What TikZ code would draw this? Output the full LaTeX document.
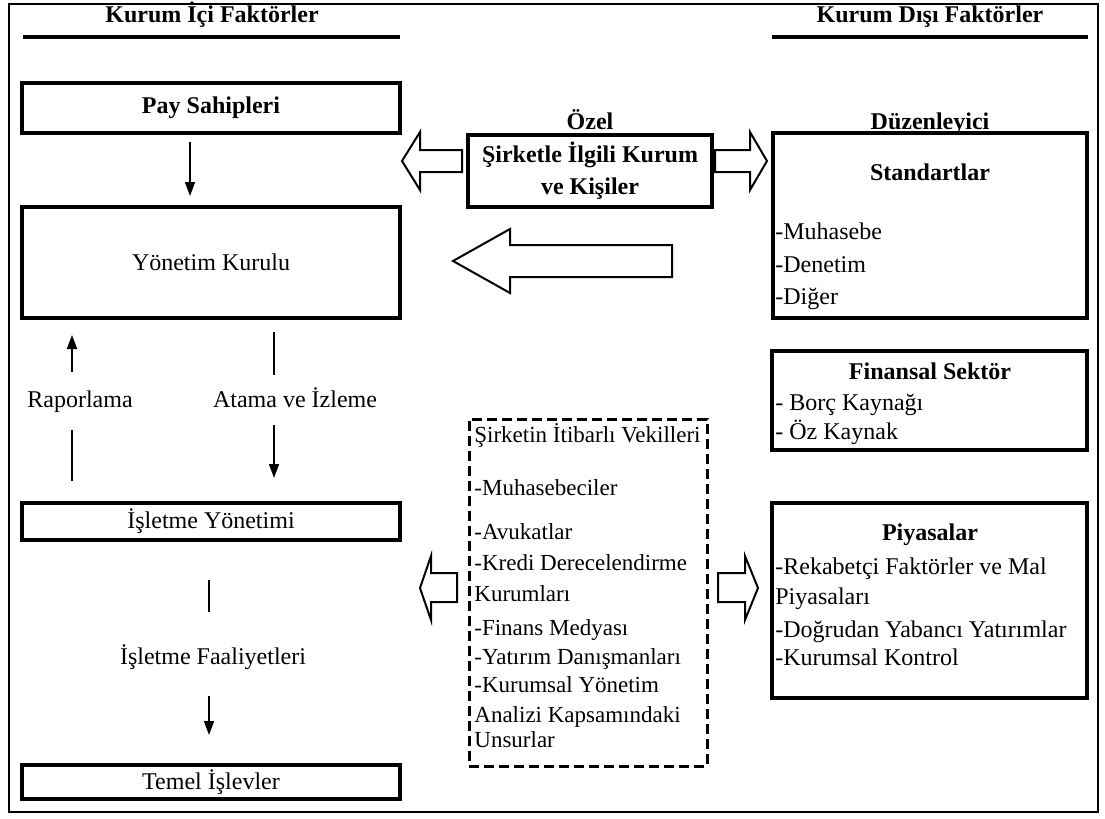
\documentclass[tikz,border=0pt]{standalone}
\usepackage{fontspec}
\setmainfont{Liberation Serif}
\usetikzlibrary{arrows.meta,positioning}
\newcommand{\fsz}{\fontsize{12}{16}\selectfont}
\newcommand{\fsm}{\fontsize{11.5}{16}\selectfont}
\tikzset{
  box/.style={draw, line width=2pt, inner sep=0pt, font=\fsz},
  lbl/.style={inner sep=0pt, anchor=base, font=\fsz},
  head/.style={inner sep=0pt, anchor=base, font=\fsz\bfseries},
  item/.style={inner sep=0pt, anchor=base west, font=\fsz},
  arr/.style={line width=0.8pt, -{Triangle[width=5pt,length=7pt]}},
  ln/.style={line width=0.8pt},
  blk/.style={line width=1pt, line join=miter},
}
\begin{document}
\begin{tikzpicture}[x=.5pt,y=-.5pt]
\useasboundingbox (0,0) rectangle (1105,819);
\draw[line width=1pt] (9,4) rectangle (1098,812);
% basliklar
\node[head] (ici) at (212,23) {Kurum İçi Faktörler};
\node[head] (disi) at (930,23) {Kurum Dışı Faktörler};
\draw[line width=2.4pt] (23,37) -- (400,37);
\draw[line width=2.4pt] (772,37) -- (1088,37);
% kurum ici
\node[box, font=\fsz\bfseries, minimum width=189pt, minimum height=25pt] (pay) at (211,108) {Pay Sahipleri};
\node[box, minimum width=189pt, minimum height=55.5pt] (yon) at (211,262.5) {Yönetim Kurulu};
\node[box, minimum width=189pt, minimum height=18.5pt] (isy) at (211,521.5) {İşletme Yönetimi};
\node[box, minimum width=189pt, minimum height=17pt] (tem) at (211,782) {Temel İşlevler};
\node[lbl] (rap) at (80,407) {Raporlama};
\node[lbl] (ata) at (295,407) {Atama ve İzleme};
\node[lbl] (faal) at (213,664) {İşletme Faaliyetleri};
\coordinate (px) at (190,0);
\coordinate (rx) at (72,0);
\coordinate (ax) at (274,0);
\coordinate (fx) at (209,0);
\draw[arr, shorten <=3.5pt, shorten >=4.5pt] (pay.south -| px) -- (yon.north -| px);
\draw[arr, shorten <=9pt, shorten >=7.5pt] (rap.north -| rx) -- (yon.south -| rx);
\draw[ln, shorten <=10pt, shorten >=8.5pt] (isy.north -| rx) -- (rap.south -| rx);
\draw[ln, shorten <=6pt, shorten >=6pt] (yon.south -| ax) -- (ata.north -| ax);
\draw[arr, shorten <=8.5pt, shorten >=11.5pt] (ata.south -| ax) -- (isy.north -| ax);
\draw[ln, shorten <=19pt, shorten >=16pt] (isy.south -| fx) -- (faal.north -| fx);
\draw[arr, shorten <=13pt, shorten >=14pt] (faal.south -| fx) -- (tem.north -| fx);
% ozel
\node[head] (ozel) at (590,129) {Özel};
\node[box, font=\fsz\bfseries, align=center, minimum width=122pt, minimum height=36pt] (sirket) at (590,171) {Şirketle İlgili Kurum\\ve Kişiler};
\draw[blk] (402,161) -- (420,132) -- (420,150) -- (462,150) -- (462,172) -- (420,172) -- (420,190) -- cycle;
\draw[blk] (767,161) -- (750,132) -- (750,150) -- (715,150) -- (715,172) -- (750,172) -- (750,190) -- cycle;
\draw[blk] (453,261) -- (510,229) -- (510,245) -- (672,245) -- (672,277) -- (510,277) -- (510,293) -- cycle;
\draw[blk] (420,588) -- (431,556) -- (431,573) -- (457,573) -- (457,602) -- (431,602) -- (431,620) -- cycle;
\draw[blk] (758,588) -- (745,556) -- (745,573) -- (718,573) -- (718,602) -- (745,602) -- (745,620) -- cycle;
% vekiller
\node[draw, line width=1.5pt, dash pattern=on 5pt off 2.5pt, minimum width=119pt, minimum height=173.5pt] (vek) at (588,592.5) {};
\foreach \yy/\txt [count=\i] in {442/{Şirketin İtibarlı Vekilleri}, 495/-Muhasebeciler, 539/-Avukatlar, 570/-Kredi Derecelendirme, 601/Kurumları, 635/-Finans Medyası, 664/-Yatırım Danışmanları, 692/-Kurumsal Yönetim, 722/Analizi Kapsamındaki, 747/Unsurlar}
  \node[item, font=\fsm] (v\i) at (474,\yy) {\txt};
% kurum disi
\node[head] (duz) at (930,129) {Düzenleyici};
\node[box, minimum width=157pt, minimum height=92.5pt] (std) at (930,225.5) {};
\node[head] (stdb) at (930,180) {Standartlar};
\foreach \yy/\txt [count=\i] in {239/-Muhasebe, 272/-Denetim, 304/-Diğer}
  \node[item] (s\i) at (775,\yy) {\txt};
\node[box, minimum width=157.5pt, minimum height=49.5pt] (fin) at (929.5,400.5) {};
\node[head] (finb) at (930,379) {Finansal Sektör};
\foreach \yy/\txt [count=\i] in {410/- Borç Kaynağı, 439/- Öz Kaynak}
  \node[item] (f\i) at (775,\yy) {\txt};
\node[box, minimum width=157.5pt, minimum height=97.5pt] (piy) at (929.5,600.5) {};
\node[head] (piyb) at (930,540) {Piyasalar};
\foreach \yy/\txt [count=\i] in {574/-Rekabetçi Faktörler ve Mal, 604/Piyasaları, 637/-Doğrudan Yabancı Yatırımlar, 665/-Kurumsal Kontrol}
  \node[item] (p\i) at (775,\yy) {\txt};
\end{tikzpicture}
\end{document}
